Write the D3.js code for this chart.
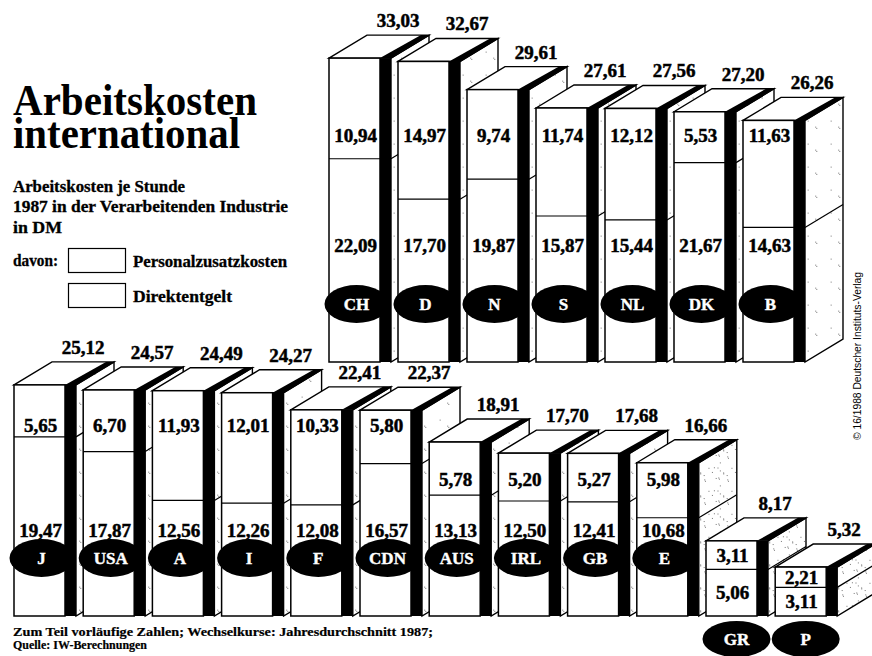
<!DOCTYPE html>
<html><head><meta charset="utf-8">
<script src="https://cdn.jsdelivr.net/npm/d3@7"></script>
<style>body{margin:0;background:#fff}svg{display:block}</style>
</head><body>
<script>
// ---- data ----
const countries = ["CH","D","N","S","NL","DK","B","J","USA","A","I","F","CDN","AUS","IRL","GB","E","GR","P"];
const zusatz = [10.94,14.97,9.74,11.74,12.12,5.53,11.63,5.65,6.70,11.93,12.01,10.33,5.80,5.78,5.20,5.27,5.98,3.11,2.21];
const direkt = [22.09,17.70,19.87,15.87,15.44,21.67,14.63,19.47,17.87,12.56,12.26,12.08,16.57,13.13,12.50,12.41,10.68,5.06,3.11];
const totals = [33.03,32.67,29.61,27.61,27.56,27.20,26.26,25.12,24.57,24.49,24.27,22.41,22.37,18.91,17.70,17.68,16.66,8.17,5.32];
const titleLines = ["Arbeitskosten","international"];
const subtitleLines = ["Arbeitskosten je Stunde","1987 in der Verarbeitenden Industrie","in DM"];
const legendLabels = ["Personalzusatzkosten","Direktentgelt"];
const footLines = ["Zum Teil vorläufige Zahlen; Wechselkurse: Jahresdurchschnitt 1987;","Quelle: IW-Berechnungen"];
const copyright = "© 16/1988 Deutscher Instituts-Verlag";

const fmt = v => v.toFixed(2).replace('.', ',');
const serif = '"Liberation Serif","Times New Roman",serif';

const svg = d3.select('body').append('svg').attr('width',872).attr('height',656);
const defs = svg.append('defs');
function stipple(id, n, seed){
  const p = defs.append('pattern').attr('id',id).attr('patternUnits','userSpaceOnUse').attr('width',23).attr('height',23);
  p.append('rect').attr('width',23).attr('height',23).attr('fill','#fff');
  let s = seed;
  const rnd = () => { s = (s*9301+49297)%233280; return s/233280; };
  for(let i=0;i<n;i++) p.append('rect').attr('x',rnd()*23).attr('y',rnd()*23).attr('width',1).attr('height',1).attr('fill','#777');
}
stipple('st1', 3, 7);
stipple('st2', 14, 11);

const y = d3.scaleLinear().domain([0, 35]).range([0, 322]);
const FW = 51, ST = 11, DX = 38, DY = 23;

const rows = [
  {start:0, end:7, x0:329, step:69, base:362, topTiers:[135], botTiers:[245]},
  {start:7, end:19, x0:14, step:69.2, base:616, topTiers:[425,479], botTiers:[530]}
];

function pick(tiers, segTop, segBot){
  for(const t of tiers){ if(t >= segTop+12 && t <= segBot-10) return t; }
  return (segTop+segBot)/2;
}

const gBars = svg.append('g');
const gTot = svg.append('g');

rows.forEach(r => {
  const idx = d3.range(r.start, r.end);
  const x = d3.scaleBand().domain(idx.map(i=>countries[i])).range([r.x0, r.x0 + r.step*idx.length]).padding(0);
  idx.forEach(i => {
    const x0 = x(countries[i]);
    const yt = r.base - y(totals[i]);
    const ys = r.base - y(direkt[i]);
    const yb = r.base;
    const xr = x0 + FW + ST;
    const g = gBars.append('g');
    const dense = totals[i] < 17;
    // side face
    g.append('path').attr('d', `M${xr},${yt}L${xr+DX},${yt-DY}L${xr+DX},${yb-DY}L${xr},${yb}Z`)
      .attr('fill', dense ? 'url(#st2)' : 'url(#st1)').attr('stroke','#000').attr('stroke-width',1.4);
    g.append('line').attr('x1',xr).attr('y1',ys).attr('x2',xr+DX).attr('y2',ys-DY).attr('stroke','#000').attr('stroke-width',1.2);
    // top face
    g.append('path').attr('d', `M${x0},${yt}L${x0+DX},${yt-DY}L${xr+DX},${yt-DY}L${xr},${yt}Z`)
      .attr('fill','#fff').attr('stroke','#000').attr('stroke-width',1.4);
    g.append('path').attr('d', `M${x0+FW},${yt}L${xr},${yt}L${xr+DX},${yt-DY}L${x0+FW+DX+3},${yt-DY}Z`).attr('fill','#000');
    // front face
    g.append('rect').attr('x',x0).attr('y',yt).attr('width',FW).attr('height',yb-yt)
      .attr('fill','#fff').attr('stroke','#000').attr('stroke-width',1.5);
    g.append('line').attr('x1',x0).attr('y1',ys).attr('x2',x0+FW).attr('y2',ys).attr('stroke','#000').attr('stroke-width',1.2);
    // black strip
    g.append('rect').attr('x',x0+FW).attr('y',yt).attr('width',ST).attr('height',yb-yt).attr('fill','#000');
    // segment labels
    const ly1 = pick(r.topTiers, yt, ys);
    const ly2 = pick(r.botTiers, ys, yb);
    [[zusatz[i],ly1],[direkt[i],ly2]].forEach(([v,ly]) => {
      g.append('text').attr('x', x0+FW/2+1).attr('y', ly).attr('dy','0.35em')
        .attr('text-anchor','middle').attr('font-family',serif).attr('font-weight','bold')
        .attr('font-size',19).attr('stroke','#000').attr('stroke-width',0.5).text(fmt(v));
    });
    // country ellipse
    const onBar = (yb-yt) > 90;
    const cx = x0 + FW/2 + (onBar ? 2 : 5);
    const cy = onBar ? yb - 58 : yb + 23;
    g.append('ellipse').attr('cx',cx).attr('cy',cy).attr('rx', onBar?32:34).attr('ry', onBar?19:18).attr('fill','#000');
    g.append('text').attr('x',cx).attr('y',cy).attr('dy','0.35em').attr('text-anchor','middle')
      .attr('font-family',serif).attr('font-weight','bold').attr('font-size',17).attr('fill','#fff')
      .attr('stroke','#fff').attr('stroke-width',0.4).text(countries[i]);
    // total label
    gTot.append('text').attr('x', x0 + DX + (FW+ST)/2).attr('y', yt - DY - 8)
      .attr('text-anchor','middle').attr('font-family',serif).attr('font-weight','bold')
      .attr('font-size',19).attr('stroke','#000').attr('stroke-width',0.5).text(fmt(totals[i]));
  });
});

// ---- title & texts ----
const tg = svg.append('g').attr('font-family',serif).attr('font-weight','bold');
const tl = [[13,115,244],[13,148,227]];
const title = tg.append('text').attr('font-size',44);
titleLines.forEach((t,k)=> title.append('tspan').attr('x',tl[k][0]).attr('y',tl[k][1])
  .attr('textLength',tl[k][2]).attr('lengthAdjust','spacingAndGlyphs').text(t));
const sl = [[192,172],[212,275],[233,49]];
subtitleLines.forEach((t,k)=> tg.append('text').attr('x',13).attr('y',sl[k][0]).attr('font-size',16)
  .attr('textLength',sl[k][1]).attr('lengthAdjust','spacingAndGlyphs').attr('stroke','#000').attr('stroke-width',0.3).text(t));
tg.append('text').attr('x',13).attr('y',266).attr('font-size',16).attr('textLength',45).attr('lengthAdjust','spacingAndGlyphs')
  .attr('stroke','#000').attr('stroke-width',0.3).text('davon:');
const lg = [[248,267,154],[283,302,99]];
legendLabels.forEach((t,k)=>{
  svg.append('rect').attr('x',68.5).attr('y',lg[k][0]+0.5).attr('width',57).attr('height',24)
    .attr('fill','#fff').attr('stroke','#000').attr('stroke-width',1.2);
  tg.append('text').attr('x',133).attr('y',lg[k][1]).attr('font-size',16)
    .attr('textLength',lg[k][2]).attr('lengthAdjust','spacingAndGlyphs').attr('stroke','#000').attr('stroke-width',0.3).text(t);
});
const fl = [[636,420],[649,134]];
footLines.forEach((t,k)=> tg.append('text').attr('x',13).attr('y',fl[k][0]).attr('font-size',12)
  .attr('textLength',fl[k][1]).attr('lengthAdjust','spacingAndGlyphs').attr('stroke','#000').attr('stroke-width',0.2).text(t));
svg.append('text').attr('transform','translate(861,356) rotate(-90)').attr('text-anchor','middle')
  .attr('font-family','"Liberation Sans",Arial,sans-serif').attr('font-size',10)
  .attr('textLength',168).attr('lengthAdjust','spacingAndGlyphs').text(copyright);
</script>
</body></html>
